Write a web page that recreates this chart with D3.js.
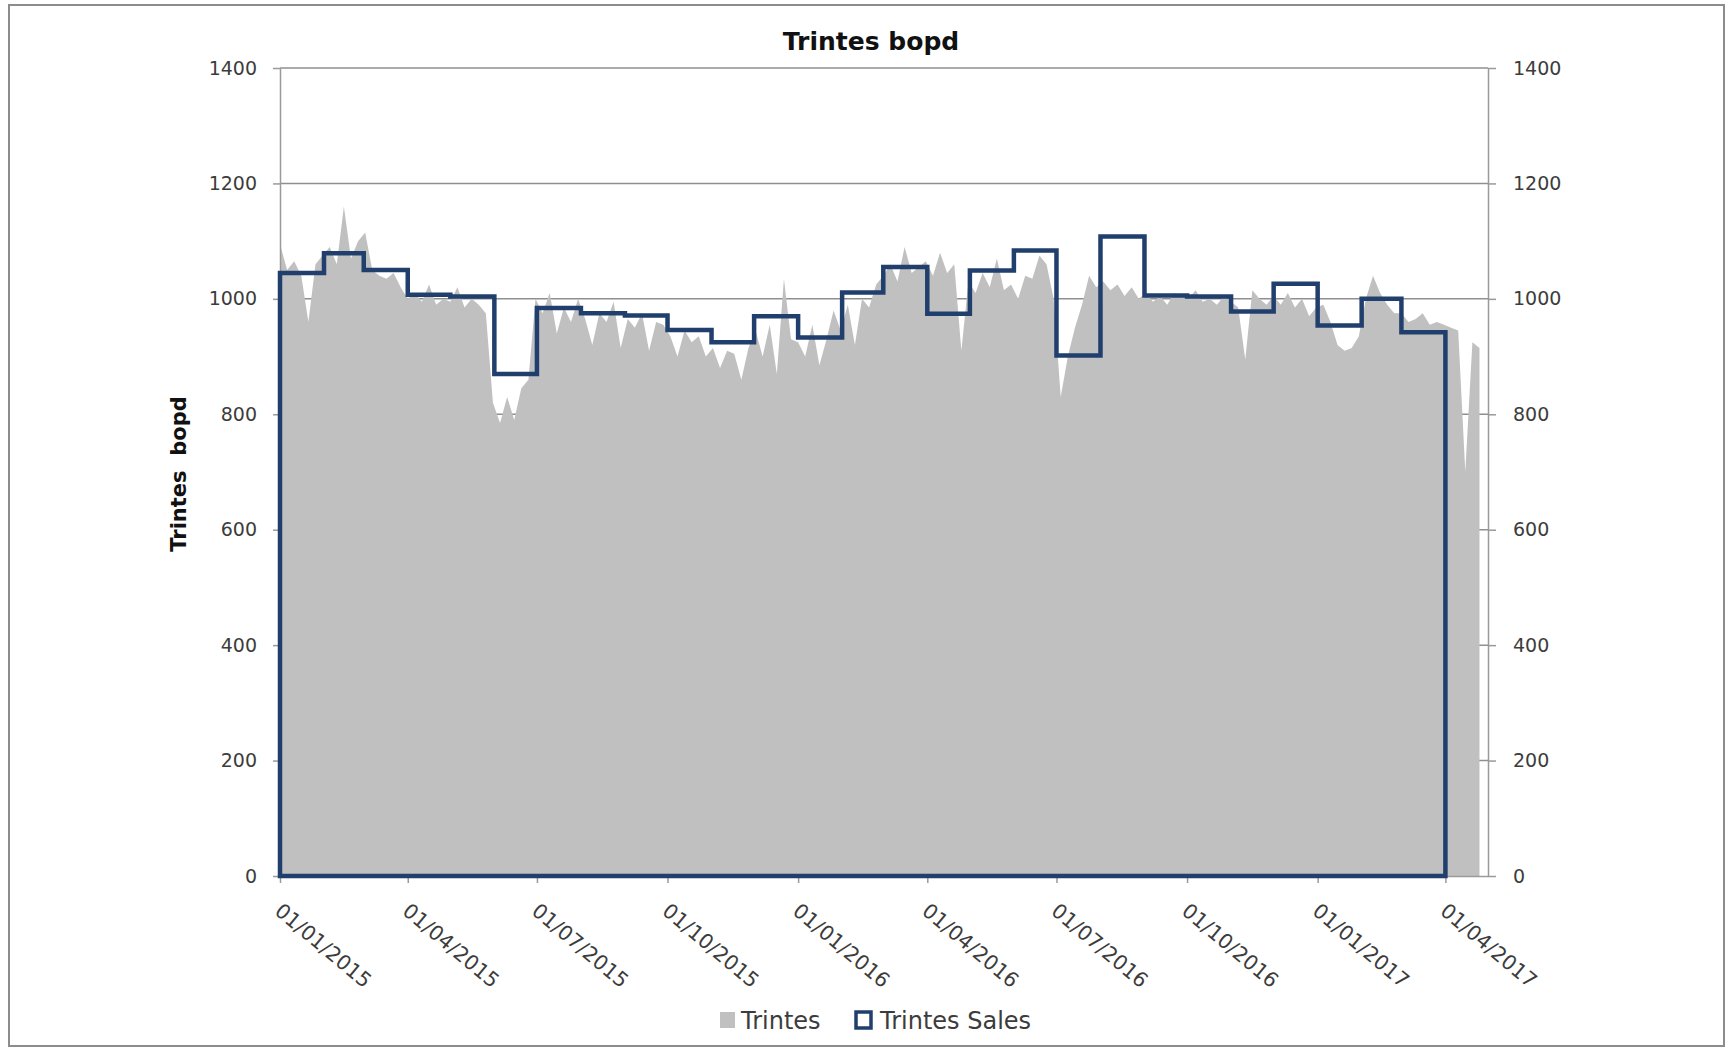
<!DOCTYPE html>
<html lang="en">
<head>
<meta charset="UTF-8">
<title>Trintes bopd</title>
<script src="https://cdn.jsdelivr.net/npm/d3@7"></script>
<style>
    body {
        margin: 0;
        background-color: white;
    }

    svg text {
        font-family: "DejaVu Sans", sans-serif;
        fill: #3c3c3c;
    }

    .axis path,
    .axis line {
        stroke: #9a9a9a;
        stroke-width: 1.5;
    }

    .axis text {
        font-size: 19px;
    }

    .grid line {
        stroke: #8f8f8f;
        stroke-width: 1.5;
    }
</style>
</head>
<body>
<div id="chart"></div>
<script>
    // y axis ticks (both sides share the same 0-1400 range)
    const yTicks = [0, 200, 400, 600, 800, 1000, 1200, 1400];

    // x axis: quarterly labels, axis runs to the start of May 2017
    const xTickLabels = ['01/01/2015', '01/04/2015', '01/07/2015', '01/10/2015', '01/01/2016',
        '01/04/2016', '01/07/2016', '01/10/2016', '01/01/2017', '01/04/2017'];
    const axisStart = '01/01/2015';
    const axisEnd = '01/05/2017';

    // Trintes Sales: one value per month, Jan 2015 .. Mar 2017
    const salesStart = '01/01/2015';
    const salesValues = [1045, 1079, 1050, 1007, 1004, 870, 984, 975, 971, 946, 925, 970,
        933, 1011, 1055, 974, 1049, 1084, 902, 1108, 1006, 1004, 978, 1026,
        954, 1000, 942];

    // Trintes production (bopd), read every 5 days from 01/01/2015
    const prodStart = '01/01/2015';
    const prodStepDays = 5;
    const prodValues = [
        1095, 1050, 1065, 1040, 960, 1060, 1075,
        1090, 1060, 1160, 1070, 1100,
        1115, 1050, 1040, 1035, 1045, 1020,
        1000, 1010, 995, 1025, 990, 1000,
        995, 1020, 985, 1000, 990, 975,
        820, 785, 830, 790, 845, 860,
        1000, 975, 1010, 940, 985, 960, 1000,
        965, 920, 975, 960, 995, 915,
        965, 950, 975, 910, 960, 955,
        935, 900, 945, 925, 935, 900,
        915, 880, 910, 905, 860, 915,
        945, 900, 955, 870, 1035, 930,
        925, 900, 955, 885, 930, 980,
        945, 990, 920, 1000, 985, 1025,
        1040, 1060, 1030, 1090, 1045, 1055,
        1065, 1040, 1080, 1045, 1060, 910,
        1030, 1010, 1045, 1020, 1070, 1015,
        1025, 1000, 1040, 1035, 1075, 1060,
        1000, 830, 900, 950, 990, 1040,
        1020, 1030, 1015, 1025, 1005, 1020,
        1000, 1010, 995, 1005, 990, 1010,
        1005, 1000, 1015, 995, 1000, 990, 1005,
        995, 985, 895, 1015, 1000, 990,
        1005, 990, 1010, 985, 1000, 970,
        985, 990, 960, 920, 910, 915,
        935, 1000, 1040, 1010, 990, 975,
        975, 960, 965, 975, 955, 960,
        955, 950, 945, 700, 925, 915
    ];

    const seriesNames = ['Trintes', 'Trintes Sales'];

    const width = 1735;
    const height = 1051;
    const plotLeft = 280, plotRight = 1488, plotTop = 68, plotBottom = 876;
    const grey = '#c0c0c0';
    const navy = '#213f6c';

    const parse = d3.timeParse('%d/%m/%Y');

    const svg = d3.select('#chart')
        .append('svg')
        .attr('width', width)
        .attr('height', height);

    svg.append('rect')
        .attr('x', 9).attr('y', 5)
        .attr('width', 1715).attr('height', 1041)
        .attr('fill', 'white')
        .attr('stroke', '#8c8c8c')
        .attr('stroke-width', 2);

    const x = d3.scaleTime()
        .domain([parse(axisStart), parse(axisEnd)])
        .range([plotLeft, plotRight]);

    const y = d3.scaleLinear()
        .domain([0, 1400])
        .range([plotBottom, plotTop]);

    // gridlines behind the data
    svg.append('g').attr('class', 'grid')
        .selectAll('line')
        .data(yTicks.filter(t => t > 0))
        .enter()
        .append('line')
        .attr('x1', plotLeft).attr('x2', plotRight)
        .attr('y1', d => y(d)).attr('y2', d => y(d));

    // production area
    const prod = prodValues.map((v, i) => ({
        date: d3.timeDay.offset(parse(prodStart), i * prodStepDays),
        v: v
    }));

    svg.append('path')
        .datum(prod)
        .attr('fill', grey)
        .attr('d', d3.area()
            .x(d => x(d.date))
            .y0(y(0))
            .y1(d => y(d.v)));

    // axes
    const fmt = d3.format('d');

    svg.append('g').attr('class', 'axis')
        .attr('transform', `translate(${plotLeft},0)`)
        .call(d3.axisLeft(y).tickValues(yTicks).tickFormat(fmt)
            .tickSize(7).tickPadding(16).tickSizeOuter(0));

    svg.append('g').attr('class', 'axis')
        .attr('transform', `translate(${plotRight},0)`)
        .call(d3.axisRight(y).tickValues(yTicks).tickFormat(fmt)
            .tickSize(8).tickPadding(17).tickSizeOuter(0));

    const xAxis = svg.append('g').attr('class', 'axis')
        .attr('transform', `translate(0,${plotBottom})`)
        .call(d3.axisBottom(x)
            .tickValues(xTickLabels.map(parse))
            .tickSize(7)
            .tickSizeOuter(0)
            .tickFormat((d, i) => xTickLabels[i]));

    xAxis.selectAll('.tick text')
        .attr('text-anchor', 'start')
        .attr('x', 0).attr('y', 0).attr('dy', null)
        .attr('transform', 'translate(-7,37) rotate(40)')
        .style('font-size', '20.5px');

    // sales: monthly steps drawn as an outlined area
    const sales = salesValues.map((v, i) => ({
        date: d3.timeMonth.offset(parse(salesStart), i),
        v: v
    }));
    sales.push({
        date: d3.timeMonth.offset(parse(salesStart), salesValues.length),
        v: salesValues[salesValues.length - 1]
    });

    svg.append('path')
        .datum(sales)
        .attr('fill', 'none')
        .attr('stroke', navy)
        .attr('stroke-width', 4.5)
        .attr('d', d3.area()
            .curve(d3.curveStepAfter)
            .x(d => x(d.date))
            .y0(y(0))
            .y1(d => y(d.v)));

    // titles
    svg.append('text')
        .attr('x', 871).attr('y', 50)
        .attr('text-anchor', 'middle')
        .style('font-size', '25px')
        .style('font-weight', 'bold')
        .style('fill', '#111')
        .text('Trintes bopd');

    svg.append('text')
        .attr('transform', 'translate(186,474) rotate(-90)')
        .attr('text-anchor', 'middle')
        .style('font-size', '21px')
        .style('font-weight', 'bold')
        .style('fill', '#111')
        .style('white-space', 'pre')
        .text('Trintes  bopd');

    // legend
    const legend = svg.append('g').attr('transform', 'translate(0,1020)');
    legend.append('rect')
        .attr('x', 720).attr('y', -8).attr('width', 15).attr('height', 16)
        .attr('fill', grey);
    legend.append('text')
        .attr('x', 741).attr('y', 9)
        .style('font-size', '24px')
        .text(seriesNames[0]);
    legend.append('rect')
        .attr('x', 856).attr('y', -8).attr('width', 15).attr('height', 16)
        .attr('fill', 'white')
        .attr('stroke', navy)
        .attr('stroke-width', 3.5);
    legend.append('text')
        .attr('x', 880).attr('y', 9)
        .style('font-size', '24px')
        .text(seriesNames[1]);
</script>
</body>
</html>
